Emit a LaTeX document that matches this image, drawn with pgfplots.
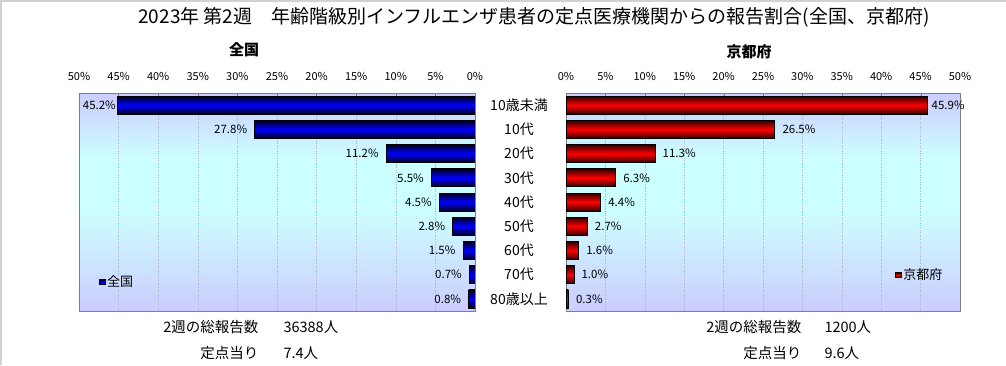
\documentclass[border=0pt]{standalone}
\usepackage{pgfplots}
\pgfplotsset{compat=1.18}
\usepackage{pgfplotstable}
\usepackage{fontspec}
\setmainfont{Noto Sans CJK JP}
\definecolor{lav}{RGB}{204,204,255}
\definecolor{cy}{RGB}{204,255,255}
\definecolor{bdark}{RGB}{0,0,30}
\definecolor{bmid}{RGB}{0,0,255}
\definecolor{rdark}{RGB}{50,0,0}
\definecolor{rmid}{RGB}{255,0,0}
\pgfdeclareverticalshading{bgshade}{100bp}{color(0bp)=(lav); color(25bp)=(lav); color(48bp)=(cy); color(60bp)=(cy); color(75bp)=(lav); color(100bp)=(lav)}

\pgfplotstableread{
y x dx
0 45.2 2.5
1 27.8 -4
2 11.2 -4
3 5.5 -4
4 4.5 -4
5 2.8 -4
6 1.5 -4
7 0.7 -4
8 0.8 -4
}\zenkoku

\pgfplotstableread{
y x dx
0 45.9 0.3
1 26.5 4
2 11.3 4
3 6.3 4
4 4.4 4
5 2.7 4
6 1.6 4
7 1.0 4
8 0.3 4
}\kyoto

\pgfplotsset{
  common/.style={
    scale only axis,
    height=218pt,
    xbar, bar width=18pt, bar shift=0pt,
    xmin=0, xmax=50, ymin=-0.5, ymax=8.5, y dir=reverse,
    xtick={0,5,...,50},
    xticklabel={\pgfmathprintnumber{\tick}\%},
    /pgf/number format/assume math mode=true,
    xtick pos=right, xticklabel pos=right,
    tick align=inside, major tick length=3pt,
    tick style={gray},
    xticklabel style={font=\fontsize{11pt}{13pt}\selectfont, yshift=9pt},
    axis line style={gray, line width=0.8pt},
    xmajorgrids, grid style={dotted, gray!60, line width=0.5pt},
    axis background/.style={shading=bgshade},
    legend style={draw=none, fill=none, font=\fontsize{13pt}{15pt}\selectfont, inner sep=0pt,
      nodes={inner sep=1.5pt}},
    legend cell align=left,
    nodes near coords style={font=\fontsize{11.5pt}{13pt}\selectfont, text=black},
    visualization depends on={\thisrow{dx}\as\dx},
  }
}

\begin{document}
\begin{tikzpicture}
\path[use as bounding box] (0,0) rectangle (1006pt,365pt);
\draw[gray!35, line width=2pt] (1pt,0pt) -- (1pt,364pt) -- (1006pt,364pt);

\node[font=\fontsize{19pt}{21pt}\selectfont] at (534pt,348pt) {2023年 第2週　年齢階級別インフルエンザ患者の定点医療機関からの報告割合(全国、京都府)};
\node[font=\fontsize{15pt}{17pt}\selectfont\bfseries] at (244pt,315pt) {全国};
\node[font=\fontsize{15pt}{17pt}\selectfont\bfseries] at (749pt,313pt) {京都府};

\begin{axis}[common,
  at={(79pt,54pt)}, anchor=south west, width=396pt,
  x dir=reverse, ytick=\empty,
  legend entries={全国},
  legend style={at={(0.05,0.133)}, anchor=west},
  legend image code/.code={\draw[fill=bmid, draw=black, line width=0.6pt] (0pt,-2.5pt) rectangle (6pt,2.5pt);},
]
\pgfplotsinvokeforeach{0,...,8}{
\addplot[draw=black, line width=0.7pt, top color=bdark, bottom color=bdark, middle color=bmid,
  restrict expr to domain={\coordindex}{#1:#1},
  nodes near coords={\pgfmathprintnumber[fixed,fixed zerofill,precision=1]{\pgfplotspointmeta}\%},
  every node near coord/.append style={anchor=east, xshift=\dx pt}]
  table[x=x, y=y, meta=x] {\zenkoku};
}
\end{axis}

\begin{axis}[common,
  at={(566pt,54pt)}, anchor=south west, width=394pt,
  ytick={0,...,8},
  yticklabels={10歳未満,10代,20代,30代,40代,50代,60代,70代,80歳以上},
  ytick style={draw=none},
  yticklabel style={anchor=center, xshift=-47pt, font=\fontsize{14pt}{16pt}\selectfont},
  legend entries={京都府},
  legend style={at={(0.835,0.165)}, anchor=west},
  legend image code/.code={\draw[fill=rmid, draw=black, line width=0.6pt] (0pt,-2.5pt) rectangle (6pt,2.5pt);},
]
\pgfplotsinvokeforeach{0,...,8}{
\addplot[draw=black, line width=0.7pt, top color=rdark, bottom color=rdark, middle color=rmid,
  restrict expr to domain={\coordindex}{#1:#1},
  nodes near coords={\pgfmathprintnumber[fixed,fixed zerofill,precision=1]{\pgfplotspointmeta}\%},
  every node near coord/.append style={anchor=west, xshift=\dx pt}]
  table[x=x, y=y, meta=x] {\kyoto};
}
\end{axis}

\begin{scope}[font=\fontsize{14.5pt}{16pt}\selectfont]
\node[anchor=east] at (262pt,38pt) {2週の総報告数};
\node[anchor=west] at (280pt,38pt) {36388人};
\node[anchor=east] at (262pt,12pt) {定点当り};
\node[anchor=west] at (280pt,12pt) {7.4人};
\node[anchor=east] at (805pt,38pt) {2週の総報告数};
\node[anchor=west] at (821pt,38pt) {1200人};
\node[anchor=east] at (805pt,12pt) {定点当り};
\node[anchor=west] at (821pt,12pt) {9.6人};
\end{scope}
\end{tikzpicture}
\end{document}
